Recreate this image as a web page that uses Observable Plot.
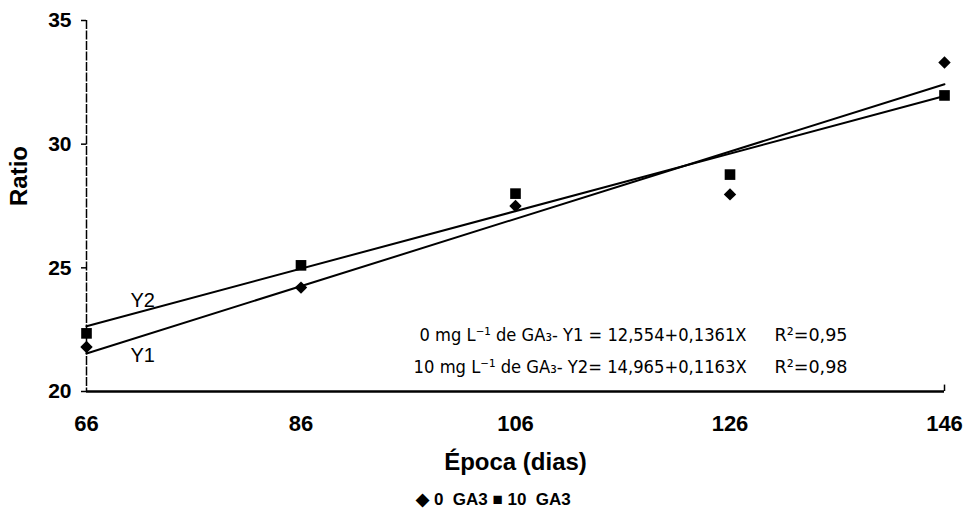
<!DOCTYPE html>
<html>
<head>
<meta charset="utf-8">
<script src="https://cdn.jsdelivr.net/npm/d3@7"></script>
<script src="https://cdn.jsdelivr.net/npm/@observablehq/plot@0.6"></script>
<style>
  html, body { margin: 0; padding: 0; background: #fff; }
  #chart svg { display: block; }
</style>
</head>
<body>
<div id="chart"></div>
<script>
// ---- Data ----
const days = [66, 86, 106, 126, 146];
const ratioGA0 = [21.8, 24.2, 27.5, 27.97, 33.3];    // diamonds (0 GA3)
const ratioGA10 = [22.35, 25.1, 28.0, 28.77, 31.97]; // squares (10 GA3)
const yTicks = [20, 25, 30, 35];
const xTicks = [66, 86, 106, 126, 146];

// Fitted equations printed on the chart
const fitNames = ["Y1", "Y2"];
const fitIntercepts = [12.554, 14.965];
const fitSlopes = [0.1361, 0.1163];
const equationTexts = ["0 mg L\u207B\u00B9 de GA\u2083- Y1 = 12,554+0,1361X", "10 mg L\u207B\u00B9 de GA\u2083- Y2= 14,965+0,1163X"];
const r2Texts = ["R\u00B2=0,95", "R\u00B2=0,98"];
const legendText = "\u25C6 0  GA3 \u25A0 10  GA3";
const xLabel = "\u00C9poca (dias)";
const yLabel = "Ratio";

// ---- Tables built from the arrays ----
const points = [
  ...days.map((d, i) => ({day: d, ratio: ratioGA0[i], series: "0 GA3"})),
  ...days.map((d, i) => ({day: d, ratio: ratioGA10[i], series: "10 GA3"}))
];
const xMin = d3.min(days), xMax = d3.max(days);
const fitRows = fitNames.flatMap((n, i) => [
  {name: n, day: xMin, ratio: fitIntercepts[i] + fitSlopes[i] * xMin},
  {name: n, day: xMax, ratio: fitIntercepts[i] + fitSlopes[i] * xMax}
]);
const eqRows = [
  {text: equationTexts[0], day: 97.05, ratio: 22.26},
  {text: equationTexts[1], day: 96.5, ratio: 20.97}
];
const r2Rows = [
  {text: r2Texts[0], day: 130.15, ratio: 22.26},
  {text: r2Texts[1], day: 130.15, ratio: 20.97}
];
const fitLabelRows = [
  {text: fitNames[1], day: 70.1, ratio: 23.68},
  {text: fitNames[0], day: 70.1, ratio: 21.46}
];

const FONT = "'Liberation Sans', Arial, Helvetica, sans-serif";
const NARROW = "'Liberation Sans Narrow', 'DejaVu Sans Condensed', 'Liberation Sans', sans-serif";

const plot = Plot.plot({
  width: 967,
  height: 519,
  marginTop: 20,
  marginBottom: 128,
  marginLeft: 86,
  marginRight: 23,
  style: {fontFamily: FONT, color: "#000", background: "#fff"},
  x: {domain: [66, 146]},
  y: {domain: [20, 35]},
  marks: [
    // axes
    Plot.axisY({ticks: yTicks, tickSize: 5, tickPadding: 10, label: null,
      fontSize: 21, fontWeight: "bold", fontFamily: FONT, stroke: "#000", strokeWidth: 1.5}),
    Plot.axisX({ticks: xTicks, tickSize: 0, tickPadding: 24, label: null,
      tickFormat: d => String(d), fontSize: 22, fontWeight: "bold", fontFamily: FONT}),
    Plot.ruleX([66], {stroke: "#000", strokeWidth: 1.5, strokeDasharray: "9,1.5"}),
    Plot.ruleY([20], {stroke: "#000", strokeWidth: 2.6}),
    Plot.ruleX([146], {y1: 20, y2: 20.26, stroke: "#000", strokeWidth: 1.5}),
    // fitted lines
    Plot.line(fitRows, {x: "day", y: "ratio", z: "name", stroke: "#000", strokeWidth: 2}),
    // points
    Plot.dot(points.filter(d => d.series === "0 GA3"), {x: "day", y: "ratio", symbol: "diamond2", r: 5.6, fill: "#000", stroke: "none"}),
    Plot.dot(points.filter(d => d.series === "10 GA3"), {x: "day", y: "ratio", symbol: "square", r: 6, fill: "#000", stroke: "none"}),
    // line labels
    Plot.text(fitLabelRows, {x: "day", y: "ratio", text: "text", textAnchor: "start", fontSize: 20, fontFamily: FONT, fill: "#000"}),
    // equations
    Plot.text(eqRows, {x: "day", y: "ratio", text: "text", textAnchor: "start", fontSize: 18, fontFamily: NARROW, fill: "#000", className: "eq-left"}),
    Plot.text(r2Rows, {x: "day", y: "ratio", text: "text", textAnchor: "start", fontSize: 18, fontFamily: NARROW, fill: "#000", className: "eq-r2"}),
    // axis titles and legend
    Plot.text([xLabel], {frameAnchor: "bottom", dy: 78, fontSize: 24, fontWeight: "bold", fontFamily: FONT, fill: "#000"}),
    Plot.text([yLabel], {frameAnchor: "left", dx: -67, rotate: -90, fontSize: 24, fontWeight: "bold", fontFamily: FONT, fill: "#000"}),
    Plot.text([legendText], {frameAnchor: "bottom", dy: 113, dx: -22, fontSize: 17, fontWeight: "bold", fontFamily: FONT, fill: "#000"})
  ]
});

// fit equation text widths to the reference's condensed lettering
const eqWidths = [327, 333];
d3.select(plot).selectAll(".eq-left text").each(function(_, i) {
  this.setAttribute("textLength", eqWidths[i]);
  this.setAttribute("lengthAdjust", "spacingAndGlyphs");
});
d3.select(plot).selectAll(".eq-r2 text").each(function() {
  this.setAttribute("textLength", 73);
  this.setAttribute("lengthAdjust", "spacingAndGlyphs");
});

document.getElementById("chart").appendChild(plot);
</script>
</body>
</html>
